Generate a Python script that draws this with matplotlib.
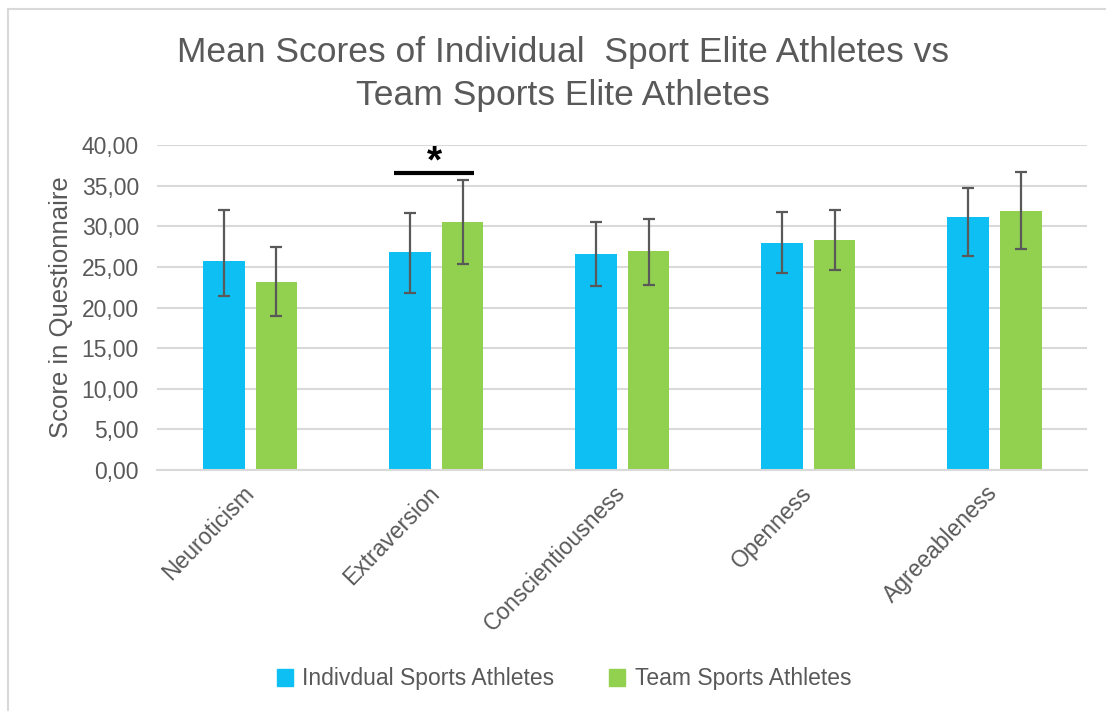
import matplotlib.pyplot as plt
import numpy as np
from matplotlib.patches import Patch, Rectangle

plt.rcParams['font.family'] = ['Liberation Sans', 'DejaVu Sans']

traits = ['Neuroticism', 'Extraversion', 'Conscientiousness', 'Openness', 'Agreeableness']
ind_mean = [25.7, 26.8, 26.6, 28.0, 31.2]
ind_err_low = [4.3, 5.0, 4.0, 3.8, 4.9]
ind_err_high = [6.3, 4.8, 3.9, 3.7, 3.5]
team_mean = [23.2, 30.5, 26.9, 28.3, 31.9]
team_err_low = [4.2, 5.2, 4.1, 3.7, 4.7]
team_err_high = [4.2, 5.2, 4.0, 3.7, 4.8]
yticks = np.arange(0, 41, 5)
sig_trait = 1      # Extraversion
sig_level = 36.5

grey_txt = '#595959'
blue = '#0DBFF2'
green = '#92D050'

fig = plt.figure(figsize=(11.06, 7.11), dpi=100)
ax = fig.add_axes([0.142, 0.339, 0.841, 0.457])

# chart border (only top/left visible in the original crop)
fig.patches.append(Rectangle((8/1106, -0.1), 1.2, 1.1 - 9/711, transform=fig.transFigure,
                             fill=False, edgecolor='#d9d9d9', linewidth=1.5))

x = np.arange(len(traits))
w = 0.225
off = 0.142
ekw = dict(ecolor='#595959', elinewidth=1.6, capsize=4.5, capthick=1.6)
ax.bar(x - off, ind_mean, width=w, color=blue, zorder=2,
       yerr=[ind_err_low, ind_err_high], error_kw=ekw)
ax.bar(x + off, team_mean, width=w, color=green, zorder=2,
       yerr=[team_err_low, team_err_high], error_kw=ekw)

# significance marker
ax.plot([sig_trait - 0.225, sig_trait + 0.205], [sig_level, sig_level], color='black', lw=3,
        solid_capstyle='butt', clip_on=False, zorder=3)
ax.text(sig_trait - 0.01, sig_level - 0.9, '*', ha='center', va='bottom', fontsize=28,
        fontweight='bold', color='black')

ax.set_xlim(-0.5, len(traits) - 0.5)
ax.set_ylim(0, 40)
ax.set_yticks(yticks)
ax.set_yticklabels(['%d,00' % v for v in yticks], fontsize=16.5, color=grey_txt)
ax.yaxis.grid(True, color='#d9d9d9', linewidth=1.5, zorder=0)
ax.set_axisbelow(True)
ax.tick_params(axis='y', length=0, pad=13)
ax.tick_params(axis='x', length=0, pad=14)
ax.set_xticks(x)
ax.set_xticklabels(traits, rotation=46, ha='right', va='center', rotation_mode='anchor',
                   fontsize=16.5, color=grey_txt)
for s in ['top', 'right', 'left']:
    ax.spines[s].set_visible(False)
ax.spines['bottom'].set_color('#d9d9d9')
ax.spines['bottom'].set_linewidth(1.5)
ax.set_ylabel('Score in Questionnaire', fontsize=18.5, color=grey_txt, labelpad=6)

fig.text(0.509, 1 - 74/711, 'Mean Scores of Individual  Sport Elite Athletes vs\nTeam Sports Elite Athletes',
         ha='center', va='center', fontsize=25.5, color=grey_txt, linespacing=1.38)

handles = [Patch(color=blue, label='Indivdual Sports Athletes'),
           Patch(color=green, label='Team Sports Athletes')]
fig.legend(handles=handles, loc='center', bbox_to_anchor=(0.51, 1 - 679/711), ncol=2,
           frameon=False, fontsize=16.5, handlelength=0.7, handleheight=0.7,
           handletextpad=0.4, columnspacing=2.4, labelcolor=grey_txt)

plt.savefig('out.png', dpi=100)
